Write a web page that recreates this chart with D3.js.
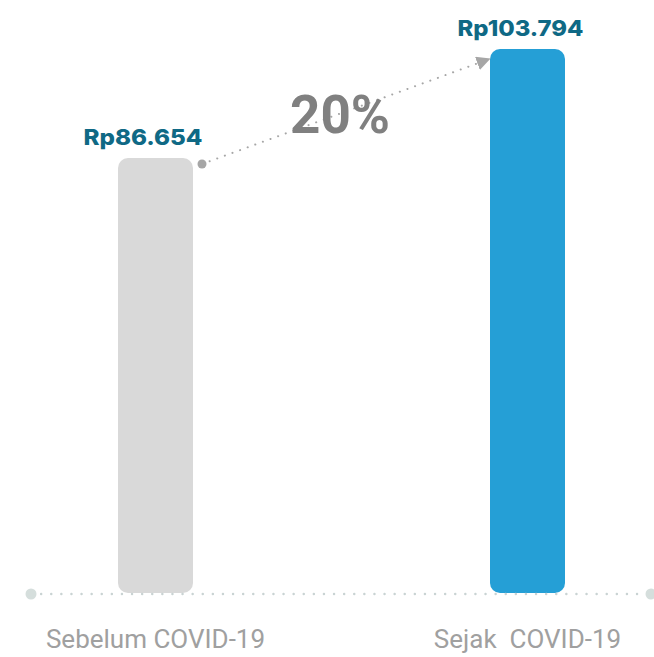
<!DOCTYPE html>
<html>
<head>
<meta charset="utf-8">
<script src="https://cdn.jsdelivr.net/npm/d3@7"></script>
<style>
  body { margin: 0; background: #fff; }
  svg { display: block; }
</style>
</head>
<body>
<div class="container"></div>
<script>
// data
var categories = ['Sebelum COVID-19', 'Sejak  COVID-19'];
var values = [86654, 103794];
var valueLabels = ['Rp86.654', 'Rp103.794'];
var changeLabel = '20%';

var width = 654, height = 657;
var barW = 75;

var svg = d3.select('.container').append('svg')
  .attr('width', width)
  .attr('height', height);

var x = d3.scalePoint()
  .domain(categories)
  .range([155.5, 527.5]);

// the chart does not start from zero
var y = d3.scaleLinear()
  .domain([18260, 103794])
  .range([593, 49]);

var baseY = 594;

// bars
svg.selectAll('rect.bar')
  .data(categories)
  .enter().append('rect')
  .attr('class', 'bar')
  .attr('x', function(d) { return x(d) - barW / 2; })
  .attr('y', function(d, i) { return y(values[i]); })
  .attr('width', barW)
  .attr('height', function(d, i) { return y.range()[0] - y(values[i]); })
  .attr('rx', 10)
  .attr('fill', function(d, i) { return i === 0 ? '#d9d9d9' : '#259fd6'; });

// dotted baseline with end dots
svg.append('line')
  .attr('x1', 31).attr('x2', 651)
  .attr('y1', baseY).attr('y2', baseY)
  .attr('stroke', '#c9d3d3')
  .attr('stroke-width', 2.4)
  .attr('stroke-linecap', 'round')
  .attr('stroke-dasharray', '0.1 10');
svg.selectAll('circle.end')
  .data([31, 651])
  .enter().append('circle')
  .attr('class', 'end')
  .attr('cx', function(d) { return d; })
  .attr('cy', baseY)
  .attr('r', 5.5)
  .attr('fill', '#d5dedc');

// value labels (wide bold face, stretched to the picture's width)
svg.selectAll('text.val')
  .data(categories)
  .enter().append('text')
  .attr('class', 'val')
  .attr('x', function(d, i) { return x(d) + (i === 0 ? -12.5 : -7); })
  .attr('y', function(d, i) { return y(values[i]) - 13; })
  .attr('text-anchor', 'middle')
  .attr('font-family', 'Inter, sans-serif')
  .attr('font-weight', 800)
  .attr('font-size', 22)
  .attr('textLength', function(d, i) { return i === 0 ? 119 : 126; })
  .attr('lengthAdjust', 'spacingAndGlyphs')
  .attr('fill', '#0f6985')
  .text(function(d, i) { return valueLabels[i]; });

// category labels
svg.selectAll('text.cat')
  .data(categories)
  .enter().append('text')
  .attr('class', 'cat')
  .attr('x', function(d) { return x(d); })
  .attr('y', 648)
  .attr('text-anchor', 'middle')
  .attr('font-family', 'Roboto, sans-serif')
  .attr('font-size', 26)
  .attr('fill', '#a0a0a0')
  .style('white-space', 'pre')
  .text(function(d) { return d; });

// growth arrow
var x0 = x(categories[0]) + barW / 2 + 9, y0 = y(values[0]) + 6;
var x1 = x(categories[1]) - barW / 2 - 6, y1 = y(values[1]) + 12;

svg.append('defs').append('marker')
  .attr('id', 'arrow')
  .attr('viewBox', '0 0 10 10')
  .attr('refX', 5).attr('refY', 5)
  .attr('markerWidth', 14).attr('markerHeight', 14)
  .attr('markerUnits', 'userSpaceOnUse')
  .attr('orient', 'auto')
  .append('path')
  .attr('d', 'M0,0L10,5L0,10Z')
  .attr('fill', '#a6a6a6');

svg.append('line')
  .attr('x1', x0).attr('y1', y0)
  .attr('x2', x1).attr('y2', y1)
  .attr('stroke', '#a6a6a6')
  .attr('stroke-width', 2)
  .attr('stroke-linecap', 'round')
  .attr('stroke-dasharray', '0.1 8')
  .attr('marker-end', 'url(#arrow)');

svg.append('circle')
  .attr('cx', x0).attr('cy', y0)
  .attr('r', 4.5)
  .attr('fill', '#a6a6a6');

svg.append('text')
  .attr('x', (x0 + x1) / 2 - 3)
  .attr('y', 133)
  .attr('text-anchor', 'middle')
  .attr('font-family', 'Roboto, sans-serif')
  .attr('font-weight', 'bold')
  .attr('font-size', 53)
  .attr('fill', '#808080')
  .text(changeLabel);
</script>
</body>
</html>
